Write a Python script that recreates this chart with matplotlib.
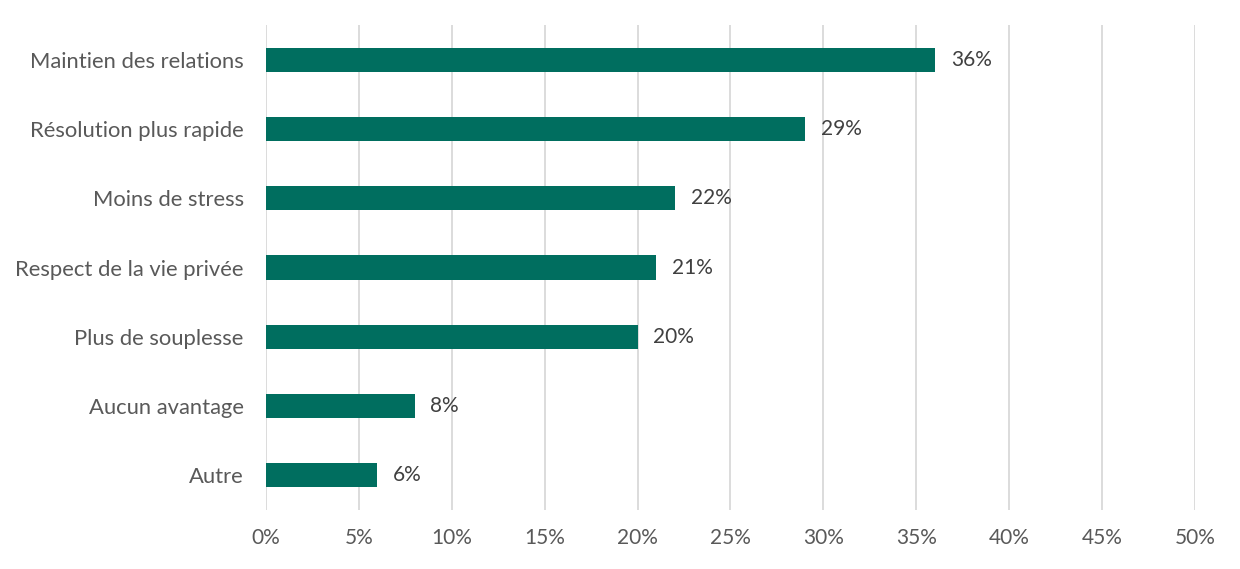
import matplotlib
matplotlib.use("Agg")
import matplotlib.pyplot as plt
from matplotlib.ticker import FuncFormatter

categories = ["Maintien des relations", "Résolution plus rapide", "Moins de stress",
              "Respect de la vie privée", "Plus de souplesse", "Aucun avantage", "Autre"]
values = [36, 29, 22, 21, 20, 8, 6]
xticks = [0, 5, 10, 15, 20, 25, 30, 35, 40, 45, 50]

plt.rcParams['font.family'] = ['Lato', 'DejaVu Sans']
txt = '#595959'

fig = plt.figure(figsize=(12.4, 5.69), dpi=100)
ax = fig.add_axes([0.2145, 0.1037, 0.7492, 0.852])

ypos = list(range(len(categories)))[::-1]
ax.barh(ypos, values, height=0.35, color='#006E5F', zorder=3)
for y, v in zip(ypos, values):
    ax.text(v + 0.85, y, f"{v}%", va='center', ha='left', fontsize=15, color='#404040')

ax.set_xlim(0, 50)
ax.set_ylim(-0.5, len(categories) - 0.5)
ax.set_xticks(xticks)
ax.xaxis.set_major_formatter(FuncFormatter(lambda x, p: f"{int(x)}%"))
ax.set_yticks(ypos)
ax.set_yticklabels(categories, fontsize=15.8)
ax.tick_params(axis='x', length=0, labelsize=15, labelcolor=txt, pad=13)
ax.tick_params(axis='y', length=0, labelcolor=txt, pad=16)
ax.grid(axis='x', color='#D9D9D9', linewidth=1.3, zorder=0)
for s in ax.spines.values():
    s.set_visible(False)

fig.savefig("out.png", dpi=100, facecolor='white')
